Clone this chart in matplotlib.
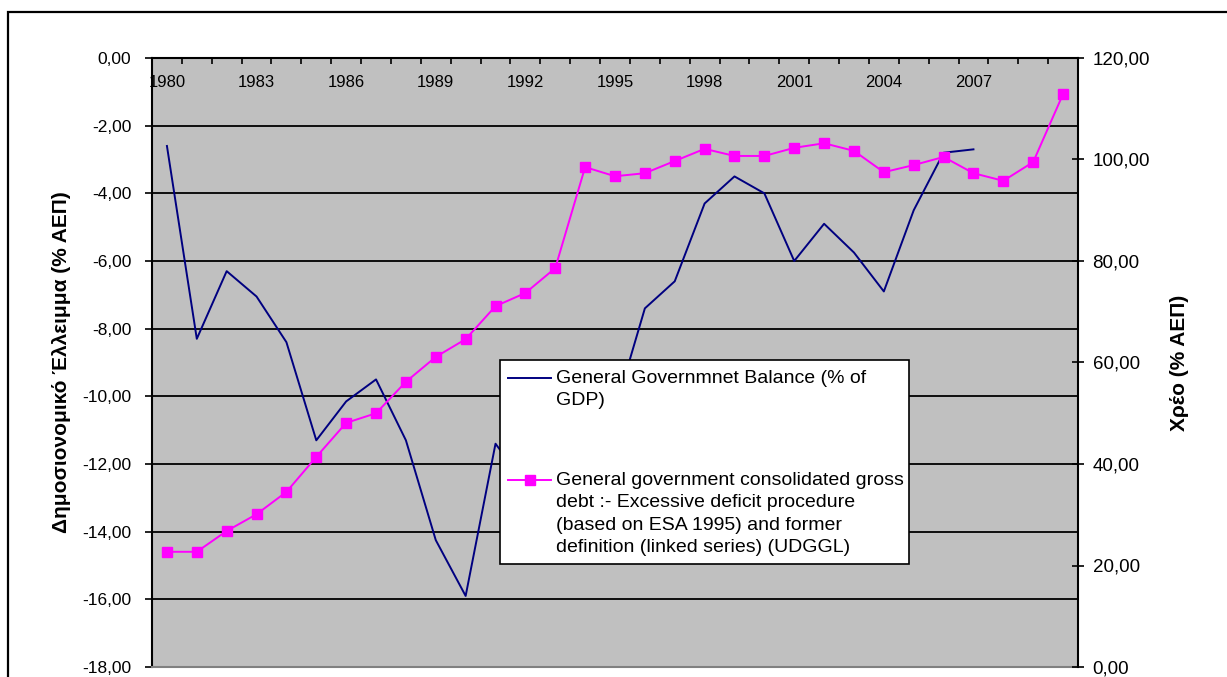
#greek_deficit_debt.py

import matplotlib
matplotlib.use('Agg')
import matplotlib.pyplot as plt
from matplotlib.lines import Line2D
from matplotlib.patches import Rectangle
from matplotlib.ticker import FuncFormatter

plt.rcParams['font.family'] = ['Liberation Sans', 'DejaVu Sans']

#data
years = list(range(1980, 2011))
year_labels = [str(y) for y in range(1980, 2008, 3)]

# general government balance, % of GDP (1980-2007)
balance = [-2.6, -8.3, -6.3, -7.05, -8.4, -11.3, -10.15, -9.5, -11.3, -14.25,
           -15.9, -11.4, -12.6, -13.6, -10.0, -10.4, -7.4, -6.6, -4.3, -3.5,
           -4.0, -6.0, -4.9, -5.75, -6.9, -4.5, -2.8, -2.7]

# consolidated gross debt, % of GDP (1980-2010)
debt = [22.7, 22.7, 26.8, 30.1, 34.5, 41.4, 48.1, 50.0, 56.2, 61.1,
        64.6, 71.1, 73.7, 78.6, 98.5, 96.7, 97.3, 99.7, 102.1, 100.7,
        100.7, 102.3, 103.2, 101.7, 97.5, 98.9, 100.5, 97.3, 95.8, 99.5,
        112.9]

label_balance = 'General Governmnet Balance (% of\nGDP)'
label_debt = ('General government consolidated gross\n'
              'debt :- Excessive deficit procedure\n'
              '(based on ESA 1995) and former\n'
              'definition (linked series) (UDGGL)')

W, H = 1227, 677

def fx(px):
    return px / W

def fy(py):
    return 1 - py / H

comma = FuncFormatter(lambda v, pos: ('%.2f' % v).replace('.', ','))

fig = plt.figure(figsize=(W / 100, H / 100), dpi=100)

# outer chart frame
fig.add_artist(Rectangle((fx(8), -0.1), 1.2, fy(12) + 0.1, transform=fig.transFigure,
                         fill=False, edgecolor='black', lw=1.6, zorder=0))

ax = fig.add_axes([fx(152), fy(667), fx(1078) - fx(152), fy(58) - fy(667)])
ax.set_facecolor('#C0C0C0')

xs = list(range(len(years)))
ax.plot(xs[:len(balance)], balance, color='#000080', lw=1.4, zorder=3)

ax.set_ylim(-18, 0)
ax.set_yticks(range(-18, 1, 2))
ax.yaxis.set_major_formatter(comma)
ax.yaxis.grid(True, color='black', lw=1.3)
ax.set_axisbelow(True)
ax.tick_params(axis='y', direction='out', length=5, width=1.2, labelsize=12.5, pad=10)
ax.set_ylabel('Δημοσιονομικό Έλλειμμα (% ΑΕΠ)', fontsize=15, fontweight='bold',
              labelpad=8)

ax.set_xlim(-0.5, len(years) - 0.5)
ax.set_xticks([years.index(int(y)) for y in year_labels])
ax.set_xticklabels(year_labels)
ax.set_xticks([i - 0.5 for i in range(len(years) + 1)], minor=True)
ax.tick_params(axis='x', which='major', top=True, bottom=False, labeltop=True,
               labelbottom=False, length=0, pad=-23, labelsize=12)
ax.tick_params(axis='x', which='minor', top=True, bottom=False, direction='in',
               length=4, width=1.2)

for s in ['top', 'left']:
    ax.spines[s].set_linewidth(1.5)
ax.spines['bottom'].set_color('#808080')
ax.spines['bottom'].set_linewidth(1.5)
ax.spines['right'].set_visible(False)

ax2 = ax.twinx()
ax2.plot(xs, debt, color='#FF00FF', lw=1.4, marker='s', ms=7, mec='#FF00FF',
         mfc='#FF00FF', zorder=4)
ax2.set_ylim(0, 120)
ax2.set_yticks(range(0, 121, 20))
ax2.yaxis.set_major_formatter(comma)
ax2.tick_params(axis='y', direction='inout', length=9, width=1.2, labelsize=13.5, pad=6)
ax2.set_ylabel('Χρέο (% ΑΕΠ)', fontsize=15, fontweight='bold', labelpad=14)
for s in ['top', 'left', 'bottom']:
    ax2.spines[s].set_visible(False)
ax2.spines['right'].set_linewidth(1.5)

# legend box, drawn like the spreadsheet one
fig.add_artist(Rectangle((fx(500), fy(564)), fx(909) - fx(500), fy(360) - fy(564),
                         transform=fig.transFigure, facecolor='white',
                         edgecolor='black', lw=1.2, zorder=5))
fig.add_artist(Line2D([fx(508), fx(551)], [fy(378), fy(378)], transform=fig.transFigure,
                      color='#000080', lw=1.4, zorder=6))
fig.add_artist(Line2D([fx(508), fx(551)], [fy(480), fy(480)], transform=fig.transFigure,
                      color='#FF00FF', lw=1.4, zorder=6))
fig.add_artist(Line2D([fx(529.5)], [fy(480)], transform=fig.transFigure, marker='s',
                      ms=7, color='#FF00FF', zorder=6))
fig.text(fx(556), fy(370), label_balance, fontsize=14, va='top', ha='left',
         linespacing=1.42, zorder=6)
fig.text(fx(556), fy(472), label_debt, fontsize=14, va='top', ha='left',
         linespacing=1.42, zorder=6)

fig.savefig('out.png', dpi=100)
